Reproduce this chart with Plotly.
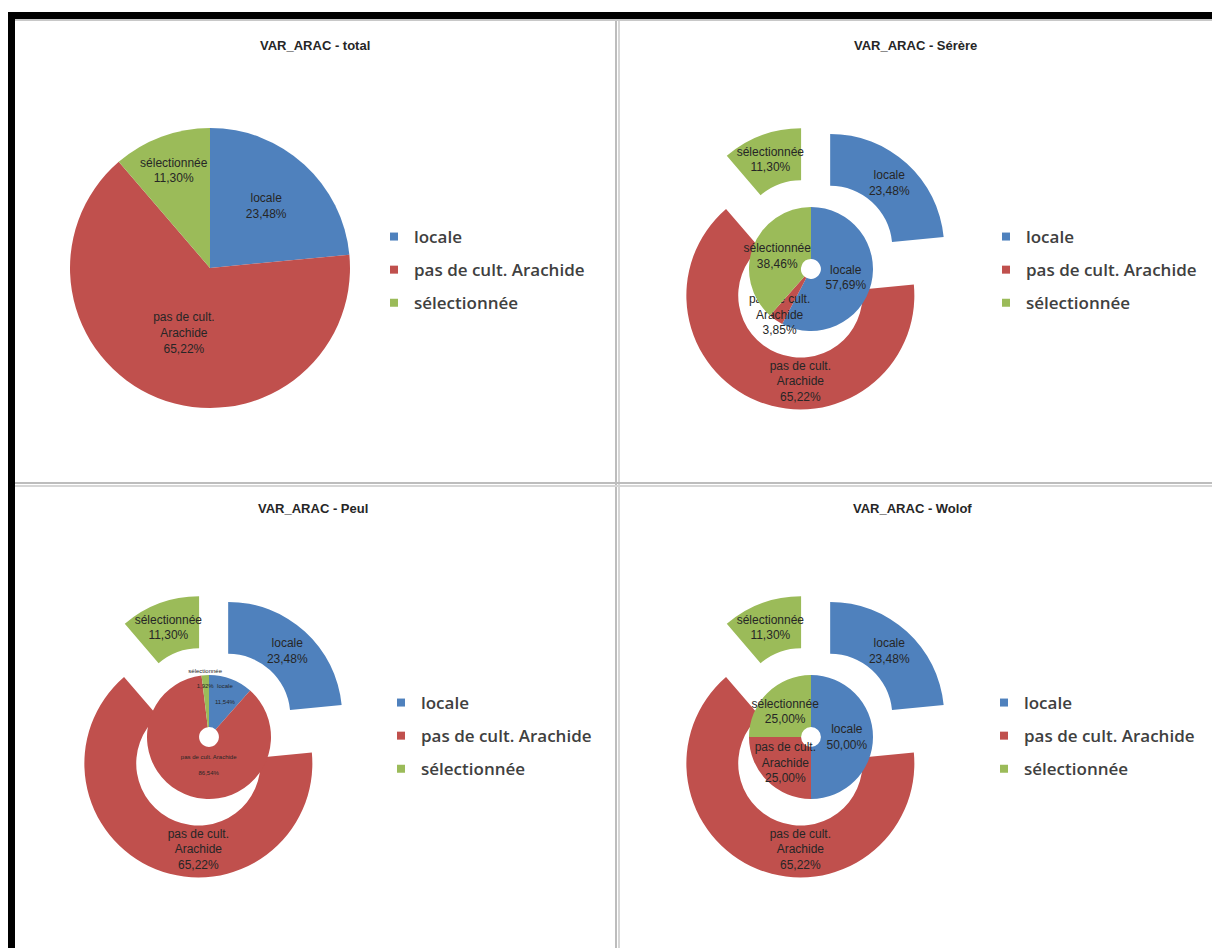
import plotly.graph_objects as go

W, H = 1212, 948

# ---------------- data ----------------
categories = ["locale", "pas de cult. Arachide", "sélectionnée"]
slice_text = ["locale", "pas de cult.<br>Arachide", "sélectionnée"]
colors = ["#4F81BD", "#C0504D", "#9BBB59"]

total_values = [23.48, 65.22, 11.30]
serere_values = [57.69, 3.85, 38.46]
peul_values = [11.54, 86.54, 1.92]
wolof_values = [50.00, 25.00, 25.00]

titles = ["VAR_ARAC - total", "VAR_ARAC - Sérère", "VAR_ARAC - Peul", "VAR_ARAC - Wolof"]

# ---------------- helpers ----------------
LABEL_FONT = dict(family="Liberation Sans, Arial, sans-serif", size=12, color="#262626")


def dom(cx, cy, half):
    return dict(x=[(cx - half) / W, (cx + half) / W],
                y=[1 - (cy + half) / H, 1 - (cy - half) / H])


def pie(values, domain, hole=0.0, pull=0.0, text=slice_text, template=None):
    return go.Pie(
        labels=categories,
        values=values,
        text=text,
        texttemplate=template or "%{text}<br>%{percent:.2%}",
        sort=False,
        direction="clockwise",
        rotation=0,
        hole=hole,
        pull=pull,
        domain=domain,
        marker=dict(colors=colors, line=dict(width=0)),
        textposition="inside",
        insidetextorientation="horizontal",
        textfont=LABEL_FONT,
        insidetextfont=LABEL_FONT,
        showlegend=False,
        hoverinfo="label+percent",
    )


fig = go.Figure()

# panel 1 : total (plain pie)
fig.add_trace(pie(total_values, dom(210, 268, 140)))

# panels 2-4 : exploded outer ring (total) + inner doughnut (group)
OUT_HALF = 142.5
IN_HALF = 62
panels = [
    (811, 269, serere_values, None, slice_text),
    (209, 737, peul_values,
     "<span style='font-size:6px'>%{text}</span><br><span style='font-size:6px'>%{percent:.2%}</span>",
     categories),
    (811, 737, wolof_values, None, slice_text),
]
for cx, cy, vals, tmpl, txt in panels:
    fig.add_trace(pie(total_values, dom(cx, cy, OUT_HALF), hole=0.545, pull=0.25))
    fig.add_trace(pie(vals, dom(cx, cy, IN_HALF), hole=0.16, text=txt, template=tmpl))

# legends (one per panel)
legend_pos = [(414, 270), (1026, 270), (421, 736), (1024, 736)]
legend_names = ["legend", "legend2", "legend3", "legend4"]
for lg in legend_names:
    for i, (cat, col) in enumerate(zip(categories, colors)):
        fig.add_trace(go.Scatter(
            x=[None], y=[None], mode="markers", name=cat,
            marker=dict(symbol="square", size=8, color=col),
            legend=lg, legendgroup=f"{lg}-{i}", showlegend=True, hoverinfo="skip",
        ))

LEG_FONT = dict(family="Open Sans, Liberation Sans, sans-serif", size=17, color="#404040", weight=600)
leg_layout = {}
for lg, (tx, ty) in zip(legend_names, legend_pos):
    leg_layout[lg] = dict(
        x=(tx - 40) / W, xanchor="left", y=1 - ty / H, yanchor="middle",
        font=LEG_FONT, tracegroupgap=8, traceorder="grouped",
        bgcolor="rgba(0,0,0,0)", borderwidth=0,
    )

# titles
title_pos = [(315, 46), (915, 46), (313, 508), (912, 508)]
annotations = [
    dict(text=f"<b>{t}</b>", x=x / W, y=1 - y / H, xref="paper", yref="paper",
         showarrow=False, xanchor="center", yanchor="middle",
         font=dict(family="Liberation Sans, Arial, sans-serif", size=13, color="#262626"))
    for t, (x, y) in zip(titles, title_pos)
]


def px_rect(x0, y0, x1, y1, color):
    return dict(type="rect", xref="paper", yref="paper", layer="above",
                x0=x0 / W, x1=x1 / W, y0=1 - y1 / H, y1=1 - y0 / H,
                fillcolor=color, line=dict(width=0))


shapes = [
    # black frame (top and left)
    px_rect(8, 12, W, 19, "#000000"),
    px_rect(8, 12, 15, H, "#000000"),
    # light grey panel borders
    px_rect(15, 19, W, 21, "#c8c8c8"),
    px_rect(615, 21, 617, H, "#bdbdbd"),
    px_rect(618, 21, 620, H, "#d6d6d6"),
    px_rect(15, 482, W, 484, "#bdbdbd"),
    px_rect(15, 485, W, 487, "#d6d6d6"),
]

fig.update_layout(
    width=W, height=H,
    margin=dict(l=0, r=0, t=0, b=0),
    paper_bgcolor="white", plot_bgcolor="white",
    separators=", ",
    uniformtext=dict(minsize=12, mode="show"),
    xaxis=dict(visible=False), yaxis=dict(visible=False),
    annotations=annotations,
    shapes=shapes,
    **leg_layout,
)

fig.write_html("out.html", config={"displayModeBar": False},
               post_script="document.body.style.margin='0';")
